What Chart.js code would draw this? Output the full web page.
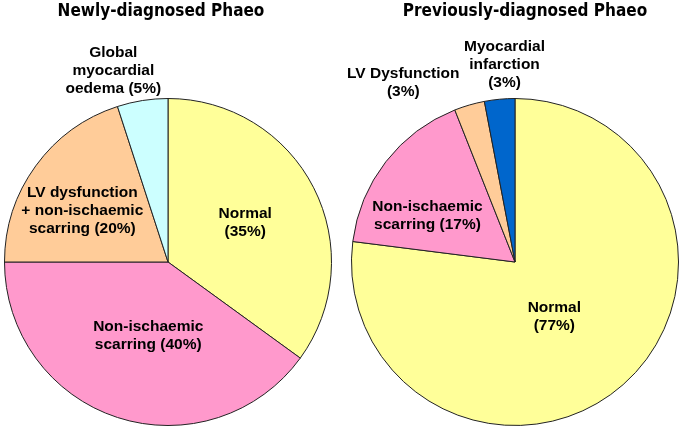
<!DOCTYPE html>
<html>
<head>
<meta charset="utf-8">
<script src="https://cdn.jsdelivr.net/npm/chart.js@4/dist/chart.umd.min.js"></script>
<style>
  body { margin: 0; background: #fff; }
  canvas { position: absolute; top: 0; }
  #newChart { left: 0; }
  #prevChart { left: 345px; }
</style>
</head>
<body>
<canvas id="newChart" width="340" height="430"></canvas>
<canvas id="prevChart" width="340" height="430"></canvas>
<script>
// Newly-diagnosed Phaeo
const newLabels = [
    ['Normal', '(35%)'],
    ['Non-ischaemic', 'scarring (40%)'],
    ['LV dysfunction', '+ non-ischaemic', 'scarring (20%)'],
    ['Global', 'myocardial', 'oedema (5%)']
];
const newValues = [35, 40, 20, 5];
const newColors = ['#FFFF99', '#FF99CC', '#FFCC99', '#CCFFFF'];

// Previously-diagnosed Phaeo
const prevLabels = [
    ['Normal', '(77%)'],
    ['Non-ischaemic', 'scarring (17%)'],
    ['LV Dysfunction', '(3%)'],
    ['Myocardial', 'infarction', '(3%)']
];
const prevValues = [77, 17, 3, 3];
const prevColors = ['#FFFF99', '#FF99CC', '#FFCC99', '#0066CC'];

// label placement: [radius fraction along slice middle, dx, dy]
const newLabelPos = [[0.53, 0, 0], [0.47, 4, 1], [0.61, -5, 7], [1.2, -24, 3]];
const prevLabelPos = [[0.41, -5, 4], [0.6, -10, 14], [1.2, -57, 9], [1.2, 8, -2]];

const sliceLabels = {
    id: 'sliceLabels',
    afterDraw(chart, args, opts) {
        const ctx = chart.ctx;
        const meta = chart.getDatasetMeta(0);
        ctx.save();
        ctx.fillStyle = '#000';
        ctx.textAlign = 'center';
        ctx.textBaseline = 'middle';
        ctx.font = 'bold 15.5px "Liberation Sans", Arial, sans-serif';
        meta.data.forEach((arc, i) => {
            const p = arc.getProps(['x', 'y', 'startAngle', 'endAngle', 'outerRadius']);
            const mid = (p.startAngle + p.endAngle) / 2;
            const [f, dx, dy] = opts.pos[i];
            const cx = p.x + Math.cos(mid) * p.outerRadius * f + dx;
            const cy = p.y + Math.sin(mid) * p.outerRadius * f + dy;
            const lines = opts.labels[i];
            const lh = 18;
            lines.forEach((t, k) => {
                ctx.fillText(t, cx, cy + (k - (lines.length - 1) / 2) * lh);
            });
        });
        ctx.font = 'bold 17px "DejaVu Sans Condensed", "DejaVu Sans", sans-serif';
        ctx.textBaseline = 'alphabetic';
        ctx.fillText(opts.title, opts.titleX, 16);
        ctx.restore();
    }
};

function makePie(id, labels, values, colors, pos, title, titleX, padRight) {
    return new Chart(document.getElementById(id), {
        type: 'pie',
        data: {
            labels: labels.map(l => l.join(' ')),
            datasets: [{
                data: values,
                backgroundColor: colors,
                borderColor: '#222',
                borderWidth: 1
            }]
        },
        options: {
            responsive: false,
            animation: false,
            layout: { padding: { top: 98, bottom: 4, left: 0, right: padRight } },
            plugins: {
                legend: { display: false },
                tooltip: { enabled: false },
                sliceLabels: { labels: labels, pos: pos, title: title, titleX: titleX }
            }
        },
        plugins: [sliceLabels]
    });
}

makePie('newChart', newLabels, newValues, newColors, newLabelPos, 'Newly-diagnosed Phaeo', 161, 4);
makePie('prevChart', prevLabels, prevValues, prevColors, prevLabelPos, 'Previously-diagnosed Phaeo', 180, 0);
</script>
</body>
</html>
